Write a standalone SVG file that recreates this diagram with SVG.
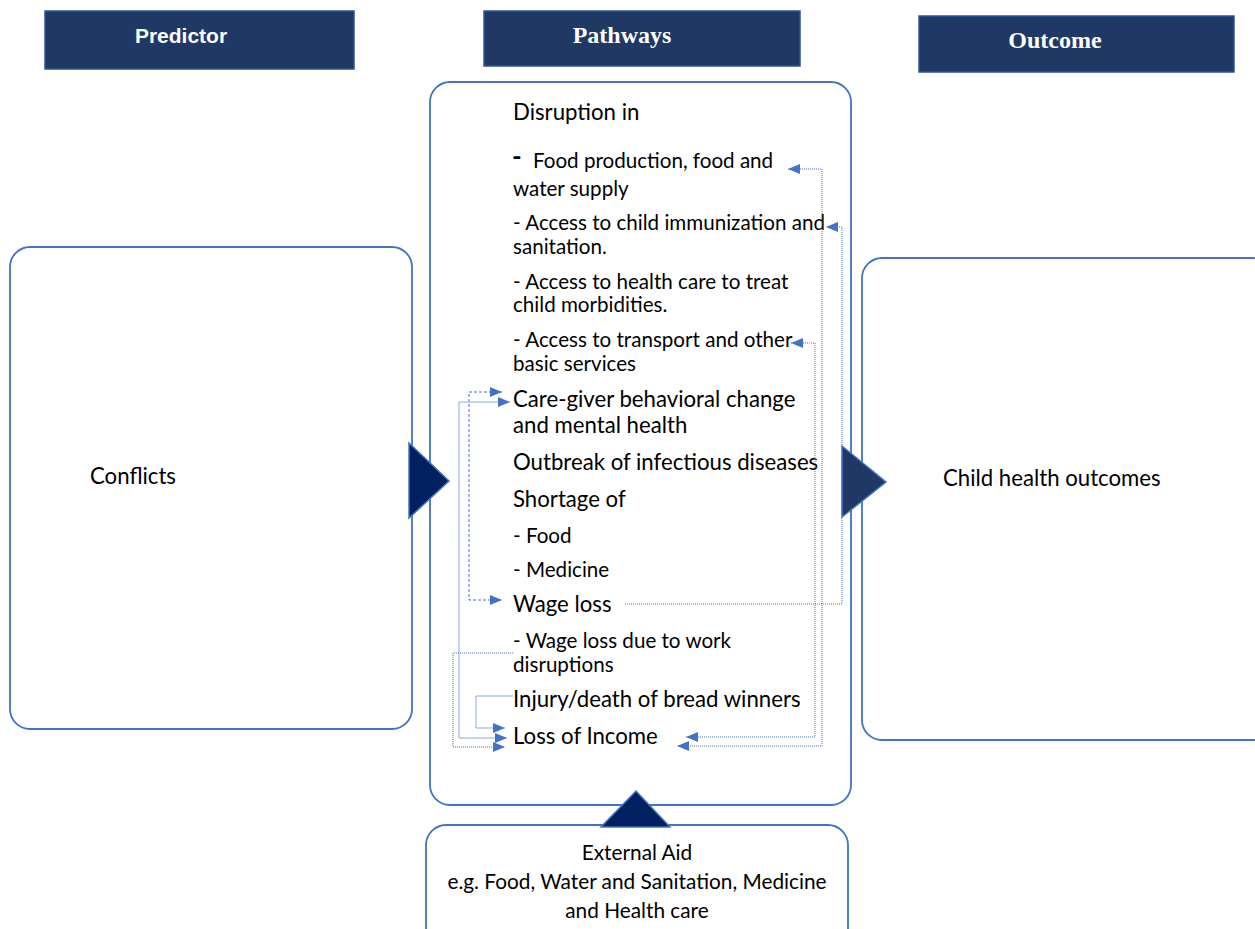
<svg xmlns="http://www.w3.org/2000/svg" width="1255" height="929" viewBox="0 0 1255 929">
<style>
.hdr{fill:#1F3864;stroke:#2F5597;stroke-width:1.5}
.box{fill:#fff;stroke:#4472C4;stroke-width:1.8}
.tri{stroke:#4472C4;stroke-width:1.5}
.t{font-family:Lato,"Liberation Sans",sans-serif;fill:#000}
.s20{font-size:22.2px}
.s18{font-size:20.6px}
.hs{font-family:"Liberation Sans",Arial,sans-serif;font-weight:bold;font-size:21px;fill:#fff}
.hr{font-family:"Liberation Serif","Times New Roman",serif;font-weight:bold;font-size:24px;fill:#fff}
.c{fill:none;stroke:#4472C4;stroke-width:1}
.dot{stroke-dasharray:1 1}
.dash{stroke-dasharray:3 2}
.lt{stroke:#8FAADC}
</style>
<defs>
<marker id="ah" viewBox="0 0 12 10" refX="12" refY="5" markerWidth="12" markerHeight="10" markerUnits="userSpaceOnUse" orient="auto-start-reverse">
<path d="M0,0 L12,5 L0,10 z" fill="#4472C4"/>
</marker>
</defs>

<g id="header-predictor">
<rect class="hdr" x="45" y="11" width="309" height="58"/>
<text class="hs" x="181" y="43" text-anchor="middle">Predictor</text>
</g>
<g id="header-pathways">
<rect class="hdr" x="484" y="11" width="316" height="55"/>
<text class="hr" x="622" y="43" text-anchor="middle">Pathways</text>
</g>
<g id="header-outcome">
<rect class="hdr" x="919" y="16" width="315" height="56"/>
<text class="hr" x="1055" y="48" text-anchor="middle">Outcome</text>
</g>

<g id="predictor">
<rect class="box" x="10" y="247" width="402" height="482" rx="20"/>
<text class="t s20" x="90" y="484">Conflicts</text>
</g>

<g id="outcome">
<rect class="box" x="862" y="258" width="410" height="482" rx="20"/>
<text class="t s20" x="943" y="486">Child health outcomes</text>
</g>

<g id="external-aid">
<rect class="box" x="426" y="825" width="422" height="125" rx="20"/>
<text class="t" font-size="20.8" x="637" y="860" text-anchor="middle">External Aid</text>
<text class="t" font-size="20.8" x="637" y="889" text-anchor="middle">e.g. Food, Water and Sanitation, Medicine</text>
<text class="t" font-size="20.8" x="637" y="918" text-anchor="middle">and Health care</text>
</g>

<g id="pathways">
<rect class="box" x="430" y="82" width="421" height="723" rx="20"/>
<text class="t s20" x="513" y="120">Disruption in</text>
<text class="t" x="512" y="166" font-size="26" font-weight="bold">-</text>
<text class="t s18" x="533" y="168">Food production, food and</text>
<text class="t s18" x="513" y="196">water supply</text>
<text class="t s18" x="513" y="230">- Access to child immunization and</text>
<text class="t s18" x="513" y="254">sanitation.</text>
<text class="t s18" x="513" y="289">- Access to health care to treat</text>
<text class="t s18" x="513" y="312">child morbidities.</text>
<text class="t s18" x="513" y="347">- Access to transport and other</text>
<text class="t s18" x="513" y="371">basic services</text>
<text class="t s20" x="513" y="407">Care-giver behavioral change</text>
<text class="t s20" x="513" y="433">and mental health</text>
<text class="t s20" x="513" y="470">Outbreak of infectious diseases</text>
<text class="t s20" x="513" y="507">Shortage of</text>
<text class="t s18" x="513" y="543">- Food</text>
<text class="t s18" x="513" y="577">- Medicine</text>
<text class="t s20" x="513" y="612">Wage loss</text>
<text class="t s18" x="513" y="648">- Wage loss due to work</text>
<text class="t s18" x="513" y="672">disruptions</text>
<text class="t s20" x="513" y="707">Injury/death of bread winners</text>
<text class="t s20" x="513" y="744">Loss of Income</text>
</g>

<g id="arrows">
<polygon class="tri" points="409,443 449,481 409,518" fill="#002060"/>
<polygon class="tri" points="842,446 886,482 842,517" fill="#1F3864"/>
<polygon class="tri" points="601,827 636,791 670,827" fill="#002060"/>
</g>

<g id="connectors">
<path class="c dash" d="M502,392 H469 V600 H502" marker-start="url(#ah)" marker-end="url(#ah)"/>
<path class="c lt" d="M510,402 H459 V738 H507" marker-start="url(#ah)" marker-end="url(#ah)"/>
<path class="c dot" d="M513,653 H453 V747 H505" marker-end="url(#ah)"/>
<path class="c lt" d="M513,696 H476 V728 H505" marker-end="url(#ah)"/>
<path class="c dot" d="M788,169 H822 V746 H677" marker-start="url(#ah)" marker-end="url(#ah)"/>
<path class="c dot" d="M791,343 H815 V737 H686" marker-start="url(#ah)" marker-end="url(#ah)"/>
<path class="c dot" d="M625,604 H842 V227 H826" marker-end="url(#ah)"/>
</g>
</svg>
